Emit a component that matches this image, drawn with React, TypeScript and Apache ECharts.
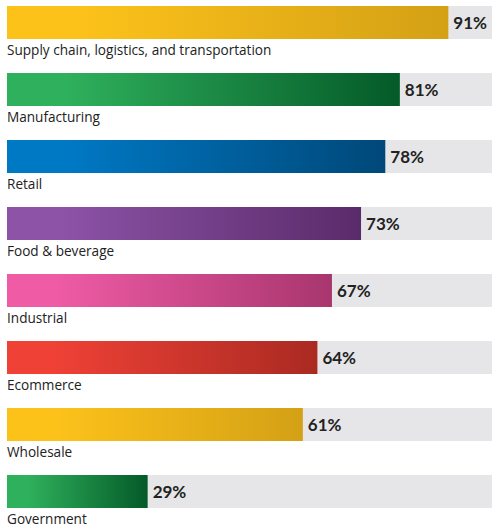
import React, { useEffect, useRef } from 'react';
import * as echarts from 'echarts';

const categories = [
    'Supply chain, logistics, and transportation',
    'Manufacturing',
    'Retail',
    'Food & beverage',
    'Industrial',
    'Ecommerce',
    'Wholesale',
    'Government',
];
const values = [91, 81, 78, 73, 67, 64, 61, 29];
// left / right colour of each bar's gradient
const startColors = ['#fdc21a', '#2fb05c', '#0079c5', '#8d53a7', '#ef5ba5', '#ef4136', '#fdc21a', '#2fb05c'];
const endColors = ['#d4a116', '#045a28', '#004879', '#5a2b6a', '#a8366e', '#aa2a22', '#d4a116', '#045a28'];

const App: React.FC = () => {
    const chartRef = useRef<HTMLDivElement>(null);

    useEffect(() => {
        const chartDom = chartRef.current!;
        const myChart = echarts.init(chartDom, null, { renderer: 'svg' });

        const option: echarts.EChartsOption = {
            animation: false,
            grid: { left: 7, width: 485, top: 0, height: 536 },
            xAxis: {
                type: 'value',
                min: 0,
                max: 100,
                show: false,
            },
            yAxis: {
                type: 'category',
                inverse: true,
                data: categories,
                axisLine: { show: false },
                axisTick: { show: false },
                axisLabel: {
                    inside: true,
                    margin: 0,
                    verticalAlign: 'top',
                    padding: [20, 0, 0, 0],
                    fontFamily: 'Open Sans',
                    fontSize: 13.6,
                    color: '#222',
                },
            },
            series: [
                {
                    type: 'bar',
                    barWidth: 33,
                    showBackground: true,
                    backgroundStyle: { color: '#e6e6e8' },
                    data: values.map((v, i) => ({
                        value: v,
                        itemStyle: {
                            color: new echarts.graphic.LinearGradient(0, 0, 1, 0, [
                                { offset: 0, color: startColors[i] },
                                { offset: 0.15, color: startColors[i] },
                                { offset: 1, color: endColors[i] },
                            ]),
                        },
                    })),
                    label: {
                        show: true,
                        position: 'right',
                        distance: 5,
                        formatter: '{c}%',
                        fontFamily: 'Lato',
                        fontWeight: 'bold',
                        fontSize: 17,
                        color: '#222',
                    },
                },
            ],
        };

        myChart.setOption(option);

        return () => {
            myChart.dispose();
        };
    }, []);

    // the first band starts above the page edge, so the chart box is shifted up
    return (
        <div
            ref={chartRef}
            style={{ position: 'fixed', left: 0, top: -11, width: 500, height: 541, background: '#fff' }}
        />
    );
};

export default App;
